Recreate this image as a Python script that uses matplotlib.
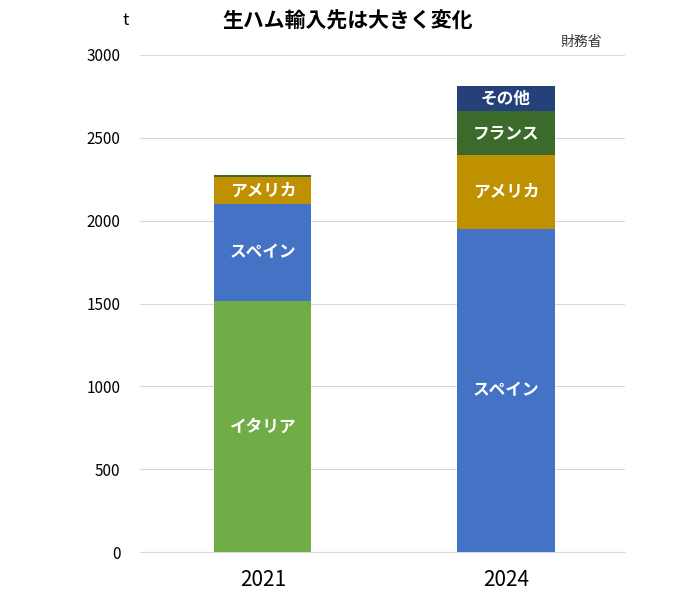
import matplotlib
matplotlib.use("Agg")
import matplotlib.pyplot as plt

plt.rcParams['font.family'] = ['Noto Sans CJK JP', 'DejaVu Sans']

years = ["2021", "2024"]
series = ["イタリア", "スペイン", "アメリカ", "フランス", "その他"]
values = {
    "イタリア": [1515, 0],
    "スペイン": [585, 1950],
    "アメリカ": [165, 445],
    "フランス": [12, 265],
    "その他": [0, 152],
}
colors = {"イタリア": "#70AD47", "スペイン": "#4472C4", "アメリカ": "#BF9000",
          "フランス": "#3B6A2A", "その他": "#24417A"}
yticks = [0, 500, 1000, 1500, 2000, 2500, 3000]

fig = plt.figure(figsize=(6.96, 5.97), dpi=100)
ax = fig.add_axes([0.201, 0.075, 0.697, 0.833])
x = [0, 1]
bottom = [0, 0]
for s in series:
    v = values[s]
    ax.bar(x, v, 0.4, bottom=bottom, color=colors[s], zorder=3)
    for i in range(2):
        if v[i] > 100:
            ax.text(x[i], bottom[i] + v[i] / 2, s, ha="center", va="center",
                    color="white", fontsize=12, fontweight="bold", zorder=4)
    bottom = [bottom[i] + v[i] for i in range(2)]

ax.set_xlim(-0.506, 1.49)
ax.set_ylim(0, 3000)
ax.set_yticks(yticks)
ax.set_yticklabels([str(t) for t in yticks], fontsize=11)
ax.set_xticks(x)
ax.set_xticklabels(years, fontsize=15)
ax.grid(axis="y", color="#d9d9d9", lw=0.8, zorder=0)
for sp in ["top", "right", "left"]:
    ax.spines[sp].set_visible(False)
ax.spines["bottom"].set_color("#d9d9d9")
ax.tick_params(length=0, pad=14)
ax.tick_params(axis="x", pad=12)

fig.text(0.5, 0.965, "生ハム輸入先は大きく変化", ha="center", va="center",
         fontsize=15, fontweight="bold")
fig.text(0.18, 0.965, "t", ha="center", va="center", fontsize=12)
fig.text(0.835, 0.93, "財務省", ha="center", va="center", fontsize=10, color="#333333")
fig.savefig("out.png", dpi=100)
